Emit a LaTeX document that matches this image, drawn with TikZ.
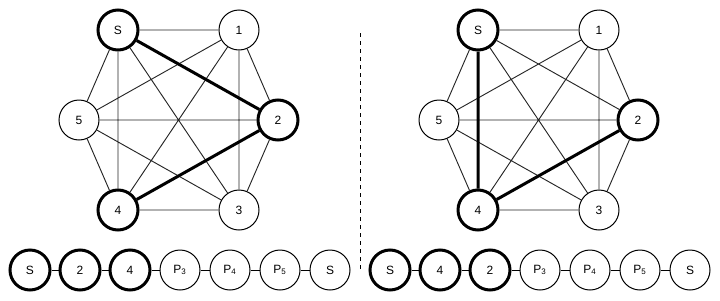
\documentclass[tikz,border=0pt]{standalone}
\usepackage{fontspec}
\setmainfont{Liberation Sans}
\begin{document}
\begin{tikzpicture}[x=0.75pt,y=-0.75pt,
  vtx/.style={circle,draw=black,fill=white,line width=0.75pt,minimum size=30pt,inner sep=0pt,font=\fontsize{9}{10}\selectfont},
  bvtx/.style={vtx,line width=2.25pt,minimum size=30pt},
  edge/.style={draw=black!85,line width=0.7pt},
  bedge/.style={draw=black,line width=2.25pt},
  sep/.style={draw=black,line width=0.75pt,dash pattern=on 3pt off 3pt}]
\useasboundingbox (0,0) rectangle (720,300);
% ---------- left graph ----------
\node[bvtx] (LS) at (118,30) {S};
\node[vtx]  (L1) at (239,30) {1};
\node[vtx]  (L5) at (79,120) {5};
\node[bvtx] (L2) at (278,120) {2};
\node[bvtx] (L4) at (118,210) {4};
\node[vtx]  (L3) at (239,210) {3};
\draw[edge] (LS)--(L1) (LS)--(L5) (LS)--(L4) (LS)--(L3)
  (L1)--(L5) (L1)--(L4) (L1)--(L3) (L1)--(L2)
  (L5)--(L2) (L5)--(L4) (L5)--(L3)
  (L2)--(L3) (L4)--(L3);
\draw[bedge] (LS)--(L2) (L2)--(L4);
% ---------- right graph ----------
\node[bvtx] (RS) at (478,30) {S};
\node[vtx]  (R1) at (599,30) {1};
\node[vtx]  (R5) at (439,120) {5};
\node[bvtx] (R2) at (638,120) {2};
\node[bvtx] (R4) at (478,210) {4};
\node[vtx]  (R3) at (599,210) {3};
\draw[edge] (RS)--(R1) (RS)--(R5) (RS)--(R2) (RS)--(R3)
  (R1)--(R5) (R1)--(R4) (R1)--(R3) (R1)--(R2)
  (R5)--(R2) (R5)--(R4) (R5)--(R3)
  (R2)--(R3) (R4)--(R3);
\draw[bedge] (RS)--(R4) (R2)--(R4);
% ---------- separator ----------
\coordinate (dt) at (360.5,33);
\coordinate (db) at (360.5,271);
\draw[sep] (dt)--(db);
% ---------- bottom rows ----------
\node[bvtx] (a1) at (30,270) {S};
\node[bvtx] (a2) at (80,270) {2};
\node[bvtx] (a3) at (130,270) {4};
\node[vtx]  (a4) at (180,270) {P\textsubscript{3}};
\node[vtx]  (a5) at (230,270) {P\textsubscript{4}};
\node[vtx]  (a6) at (280,270) {P\textsubscript{5}};
\node[vtx]  (a7) at (330,270) {S};
\draw[edge,draw=black] (a1)--(a2) (a2)--(a3) (a3)--(a4) (a4)--(a5) (a5)--(a6) (a6)--(a7);
\node[bvtx] (b1) at (390,270) {S};
\node[bvtx] (b2) at (440,270) {4};
\node[bvtx] (b3) at (490,270) {2};
\node[vtx]  (b4) at (540,270) {P\textsubscript{3}};
\node[vtx]  (b5) at (590,270) {P\textsubscript{4}};
\node[vtx]  (b6) at (640,270) {P\textsubscript{5}};
\node[vtx]  (b7) at (690,270) {S};
\draw[edge,draw=black] (b1)--(b2) (b2)--(b3) (b3)--(b4) (b4)--(b5) (b5)--(b6) (b6)--(b7);
\end{tikzpicture}
\end{document}
